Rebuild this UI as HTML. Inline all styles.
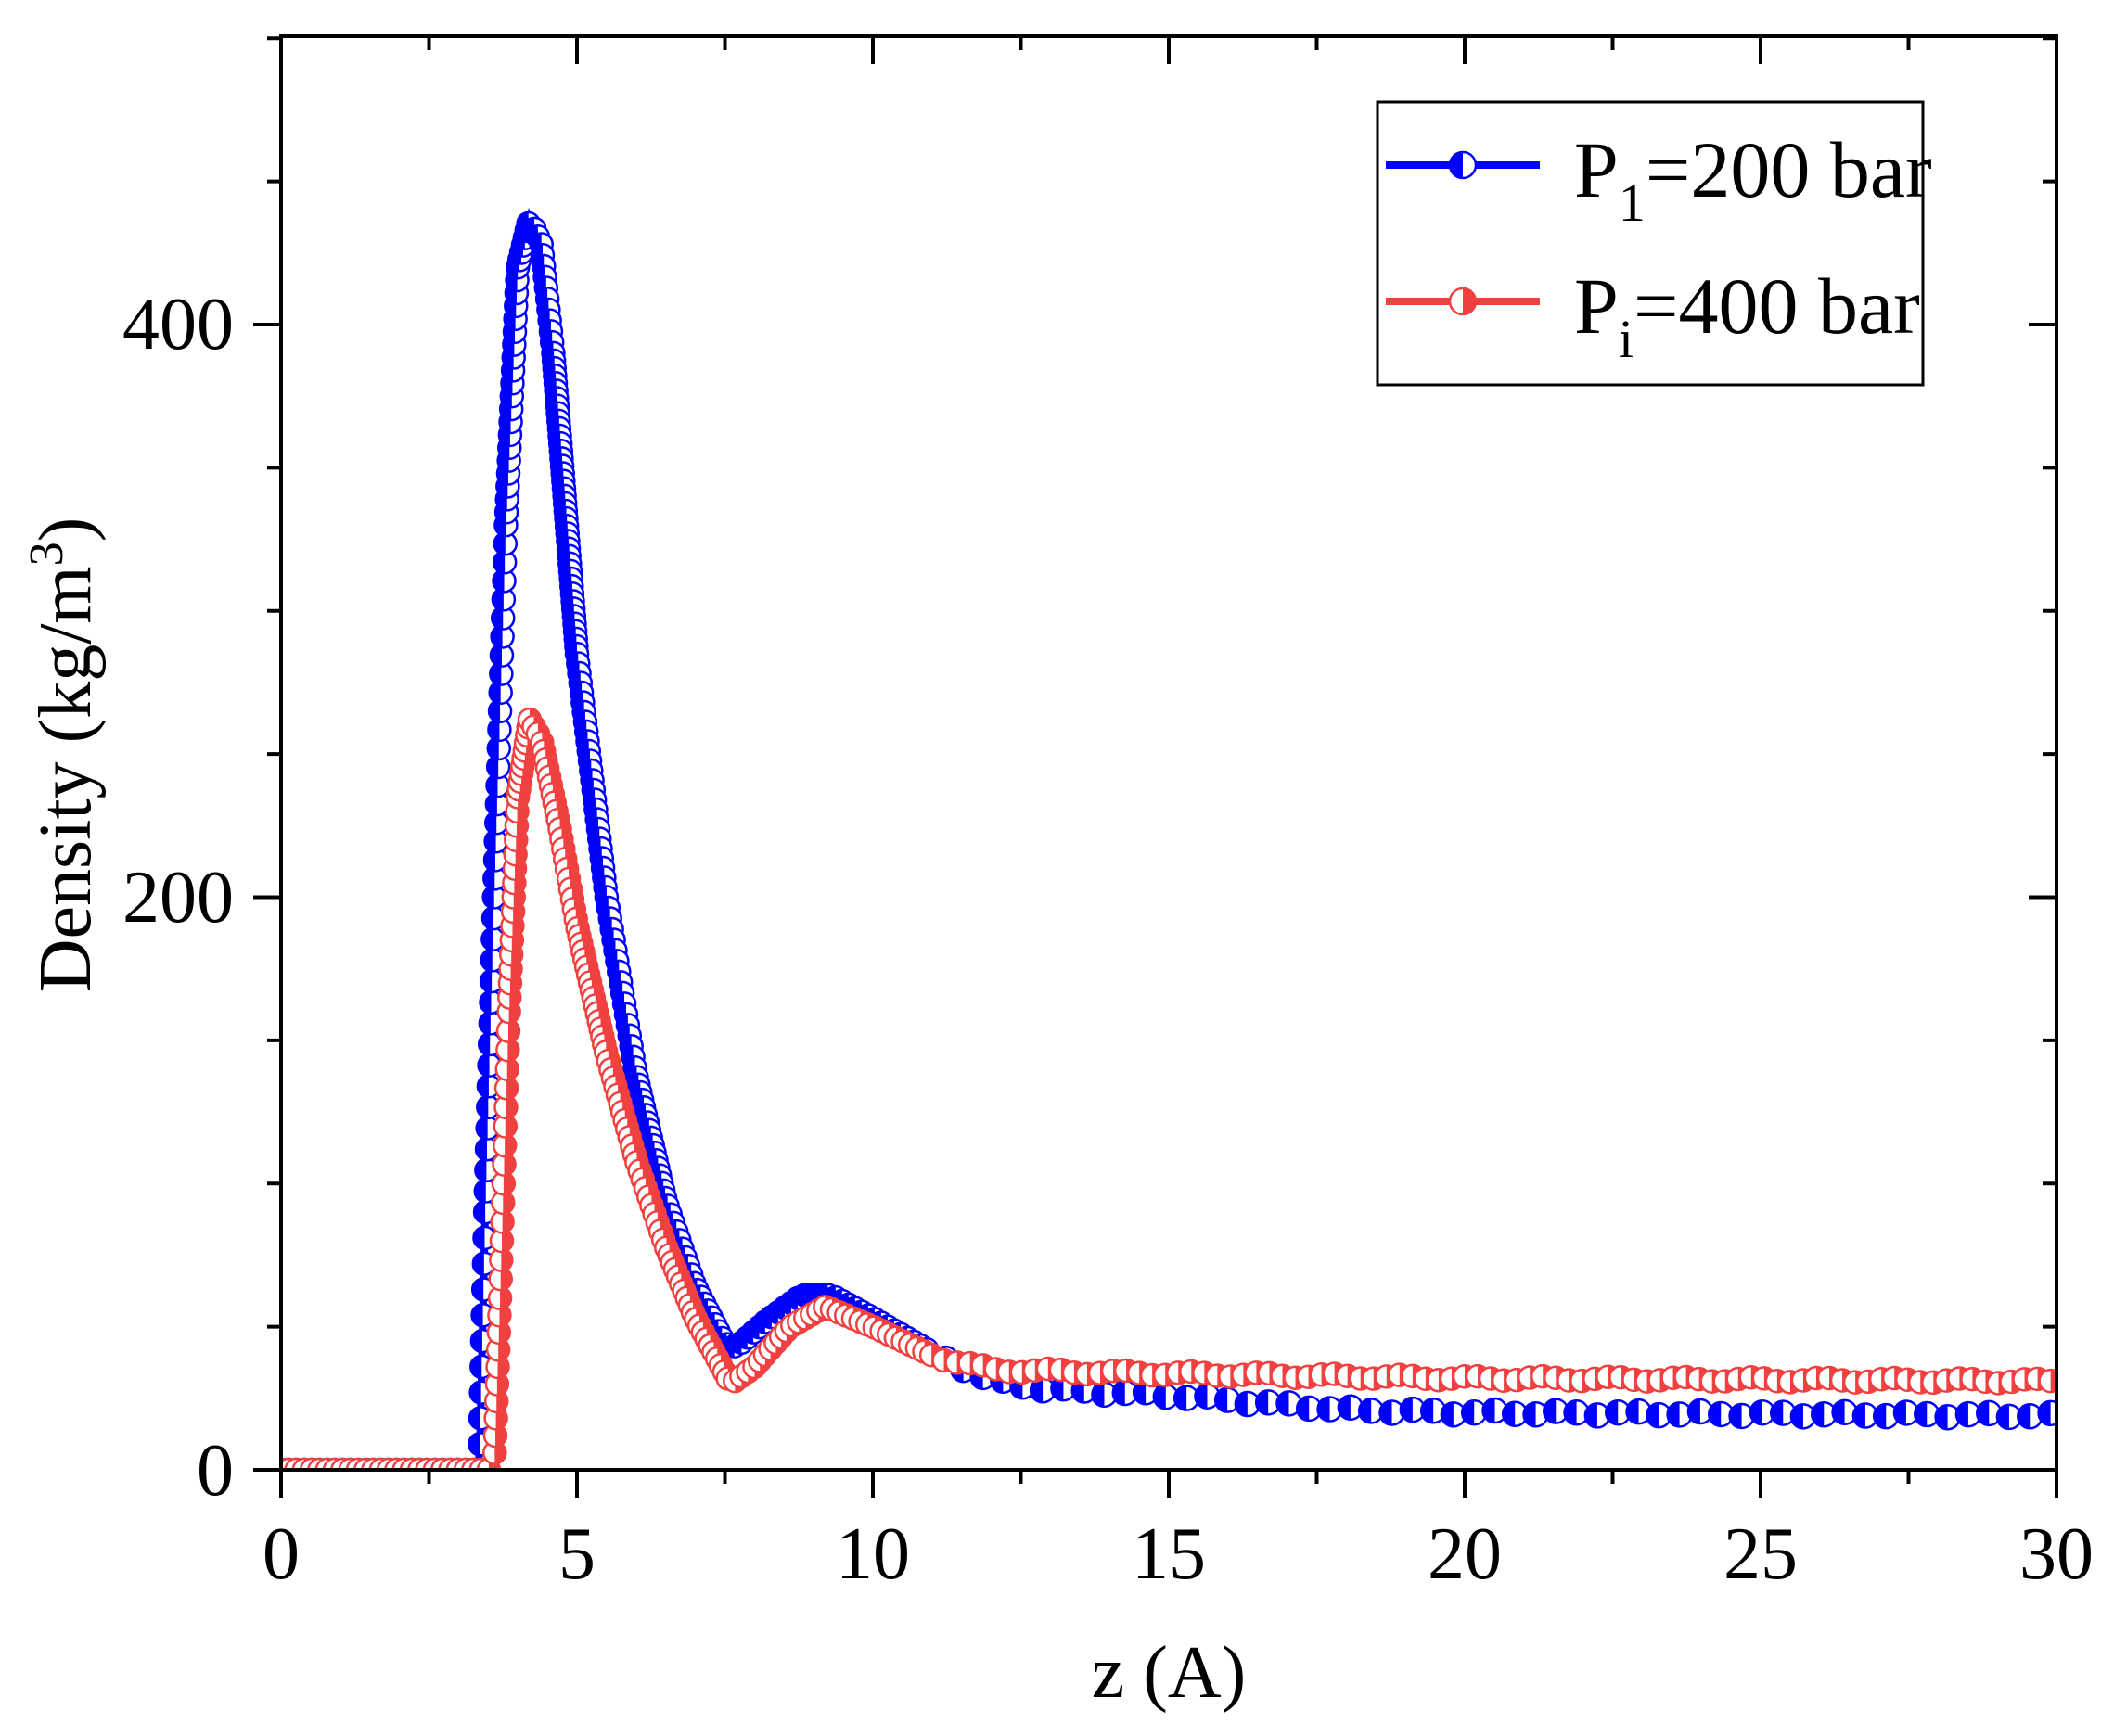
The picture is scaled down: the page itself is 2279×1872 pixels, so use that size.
<!DOCTYPE html>
<html><head><meta charset="utf-8">
<style>
html,body{margin:0;padding:0;background:#fff;}
svg{display:block;}
text{font-family:"Liberation Serif",serif;fill:#000;}
</style></head>
<body>
<svg id="s" width="2279" height="1872" viewBox="0 0 2279 1872" xmlns="http://www.w3.org/2000/svg">
<defs>
<clipPath id="c"><rect x="303" y="39" width="1914" height="1546"/></clipPath>
</defs>
<g id="data" clip-path="url(#c)"></g>
<g stroke="#000" stroke-width="4" fill="none" id="axes">
<rect x="303" y="39" width="1914" height="1546"/>
</g>
<g id="ticks" stroke="#000" stroke-width="4"></g>
<g font-size="80" text-anchor="end">
<text x="252" y="1612">0</text>
<text x="252" y="994">200</text>
<text x="252" y="376">400</text>
</g>
<g font-size="80" text-anchor="middle" id="xl">
<text x="303" y="1702">0</text>
<text x="622" y="1702">5</text>
<text x="941" y="1702">10</text>
<text x="1260" y="1702">15</text>
<text x="1579" y="1702">20</text>
<text x="1898" y="1702">25</text>
<text x="2217" y="1702">30</text>
</g>
<text x="1260" y="1830" font-size="80" text-anchor="middle">z (A)</text>
<text transform="translate(97,814) rotate(-90)" font-size="80" text-anchor="middle">Density (kg/m<tspan dy="-30" font-size="52">3</tspan><tspan dy="30">)</tspan></text>
<rect x="1485" y="110" width="588" height="305" fill="#fff" stroke="#000" stroke-width="3"/>
<line x1="1494" y1="178" x2="1660" y2="178" stroke="#0000ff" stroke-width="8"/>
<line x1="1494" y1="325" x2="1660" y2="325" stroke="#f04040" stroke-width="8"/>
<g id="leg"></g>
<text x="1697" y="212" font-size="86">P<tspan dy="26" font-size="58">1</tspan><tspan dy="-26">=200 bar</tspan></text>
<text x="1697" y="359" font-size="86">P<tspan dy="26" font-size="58">i</tspan><tspan dy="-26">=400 bar</tspan></text>
</svg>
<script>
var NS="http://www.w3.org/2000/svg";
function X(z){return 303+z*63.8;}
function Y(v){return 1585-v*3.0875;}
function el(t,a,p){var e=document.createElementNS(NS,t);for(var k in a)e.setAttribute(k,a[k]);p.appendChild(e);return e;}
var tk=document.getElementById("ticks");
for(var i=0;i<=12;i++){var x=X(i*2.5),maj=(i%2==0);
 el("line",{x1:x,y1:1585,x2:x,y2:1585+(maj?30:15)},tk);
 el("line",{x1:x,y1:39,x2:x,y2:39+(maj?30:15)},tk);}
for(var j=0;j<=10;j++){var y=Y(j*50),maj=(j%4==0);
 el("line",{x1:303,y1:y,x2:303-(maj?30:15),y2:y},tk);
 el("line",{x1:2217,y1:y,x2:2217-(maj?30:15),y2:y},tk);}
function interp(pts,z){if(z<=pts[0][0])return pts[0][1];
 for(var i=1;i<pts.length;i++){if(z<=pts[i][0]){var a=pts[i-1],b=pts[i];return a[1]+(b[1]-a[1])*(z-a[0])/(b[0]-a[0]);}}return pts[pts.length-1][1];}
var blue=[[0,0],[3.35,0],[3.45,90],[3.6,200],[3.8,330],[4.0,420],[4.2,437],[4.4,428],[4.6,390],[5.0,285],[5.5,200],[6.0,138],[6.5,94],[7.0,64],[7.5,44],[7.7,43],[8.2,52],[8.8,61],[9.3,61],[10,53],[11,41],[12,31],[13,28],[15,26],[18,21],[20,20],[30,19]];
var red=[[0,0],[3.6,0],[3.7,60],[3.85,160],[4.0,235],[4.2,262],[4.4,255],[4.7,225],[5.0,190],[5.5,145],[6.0,108],[6.5,78],[7.0,53],[7.6,30],[8.0,36],[8.6,50],[9.2,57],[10,50],[11,40],[12,35],[14,34],[20,32],[30,31]];
function mk(g,x,y,col,leftFill,r){
 el("circle",{cx:x,cy:y,r:r,fill:"#fff",stroke:col,"stroke-width":2.5},g);
 var d=leftFill?"M"+x+","+(y-r)+" A"+r+","+r+" 0 0 0 "+x+","+(y+r)+" Z":"M"+x+","+(y-r)+" A"+r+","+r+" 0 0 1 "+x+","+(y+r)+" Z";
 el("path",{d:d,fill:col},g);}
var g=document.getElementById("data");
function series(pts,col,leftFill,seed,tailSp,tr){
 var P=[],M=[],lx=-1e9,ly=-1e9;
 for(var z=0;z<=30.001;z+=0.01){var v=interp(pts,z);if(z>11)v+=Math.sin(z*5.3+seed)*0.8;var x=X(z),y=Y(v);P.push([x,y]);
  var sp=z>11?tailSp:8;var dx=x-lx,dy=y-ly;if(dx*dx+dy*dy>=sp*sp){M.push([x,y,z>11?tr:12]);lx=x;ly=y;}}
 var pp=[];for(var k=0;k<P.length;k+=3)pp.push(P[k][0].toFixed(1)+","+P[k][1].toFixed(1));
 el("polyline",{points:pp.join(" "),fill:"none",stroke:col,"stroke-width":8},g);
 for(var k=0;k<M.length;k++)mk(g,M[k][0],M[k][1],col,leftFill,M[k][2]);
}
series(blue,"#0000ff",true,0,22,13);
series(red,"#f04040",false,1.7,14,12);
var lg=document.getElementById("leg");
mk(lg,1577,178,"#0000ff",true,14);
mk(lg,1577,325,"#f04040",false,14);
</script>
</body></html>
